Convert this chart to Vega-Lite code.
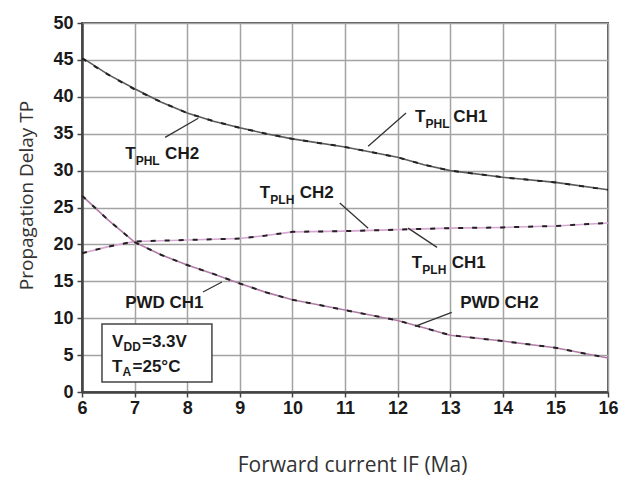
{
  "$schema": "https://vega.github.io/schema/vega-lite/v6.json",
  "width": 526,
  "height": 369,
  "autosize": {"type": "none"},
  "padding": {"left": 82, "top": 23, "right": 16, "bottom": 85},
  "background": "white",
  "config": {
    "view": {"stroke": "#555555", "strokeWidth": 2},
    "axis": {
      "gridColor": "#a3a3a3",
      "gridWidth": 1.5,
      "domainColor": "#444444",
      "domainWidth": 2.5,
      "tickColor": "#444444",
      "tickSize": 5,
      "tickWidth": 1.5,
      "labelFont": "Liberation Sans",
      "labelFontWeight": "bold",
      "labelFontSize": 18,
      "labelColor": "#1a1a1a",
      "labelOverlap": false,
      "titleFont": "Open Sans",
      "titleFontWeight": "normal",
      "titleColor": "#333333"
    }
  },
  "datasets": {
    "curves": [
      {"IF": 6, "TP": 45.3, "series": "TPHL", "ch": "CH1"},
      {"IF": 6.5, "TP": 43.0, "series": "TPHL", "ch": "CH1"},
      {"IF": 7, "TP": 41.1, "series": "TPHL", "ch": "CH1"},
      {"IF": 7.5, "TP": 39.3, "series": "TPHL", "ch": "CH1"},
      {"IF": 8, "TP": 37.8, "series": "TPHL", "ch": "CH1"},
      {"IF": 8.5, "TP": 36.7, "series": "TPHL", "ch": "CH1"},
      {"IF": 9, "TP": 35.8, "series": "TPHL", "ch": "CH1"},
      {"IF": 9.5, "TP": 35.0, "series": "TPHL", "ch": "CH1"},
      {"IF": 10, "TP": 34.3, "series": "TPHL", "ch": "CH1"},
      {"IF": 11, "TP": 33.2, "series": "TPHL", "ch": "CH1"},
      {"IF": 12, "TP": 31.8, "series": "TPHL", "ch": "CH1"},
      {"IF": 12.5, "TP": 30.8, "series": "TPHL", "ch": "CH1"},
      {"IF": 13, "TP": 30.0, "series": "TPHL", "ch": "CH1"},
      {"IF": 14, "TP": 29.1, "series": "TPHL", "ch": "CH1"},
      {"IF": 15, "TP": 28.4, "series": "TPHL", "ch": "CH1"},
      {"IF": 16, "TP": 27.4, "series": "TPHL", "ch": "CH1"},
      {"IF": 6, "TP": 45.2, "series": "TPHL", "ch": "CH2"},
      {"IF": 6.5, "TP": 43.0, "series": "TPHL", "ch": "CH2"},
      {"IF": 7, "TP": 41.0, "series": "TPHL", "ch": "CH2"},
      {"IF": 7.5, "TP": 39.3, "series": "TPHL", "ch": "CH2"},
      {"IF": 8, "TP": 37.8, "series": "TPHL", "ch": "CH2"},
      {"IF": 8.5, "TP": 36.7, "series": "TPHL", "ch": "CH2"},
      {"IF": 9, "TP": 35.8, "series": "TPHL", "ch": "CH2"},
      {"IF": 9.5, "TP": 35.0, "series": "TPHL", "ch": "CH2"},
      {"IF": 10, "TP": 34.3, "series": "TPHL", "ch": "CH2"},
      {"IF": 11, "TP": 33.2, "series": "TPHL", "ch": "CH2"},
      {"IF": 12, "TP": 31.8, "series": "TPHL", "ch": "CH2"},
      {"IF": 12.5, "TP": 30.8, "series": "TPHL", "ch": "CH2"},
      {"IF": 13, "TP": 30.0, "series": "TPHL", "ch": "CH2"},
      {"IF": 14, "TP": 29.1, "series": "TPHL", "ch": "CH2"},
      {"IF": 15, "TP": 28.4, "series": "TPHL", "ch": "CH2"},
      {"IF": 16, "TP": 27.4, "series": "TPHL", "ch": "CH2"},
      {"IF": 6, "TP": 18.8, "series": "TPLH", "ch": "CH1"},
      {"IF": 6.5, "TP": 19.7, "series": "TPLH", "ch": "CH1"},
      {"IF": 7, "TP": 20.4, "series": "TPLH", "ch": "CH1"},
      {"IF": 8, "TP": 20.6, "series": "TPLH", "ch": "CH1"},
      {"IF": 9, "TP": 20.8, "series": "TPLH", "ch": "CH1"},
      {"IF": 9.5, "TP": 21.2, "series": "TPLH", "ch": "CH1"},
      {"IF": 10, "TP": 21.7, "series": "TPLH", "ch": "CH1"},
      {"IF": 11, "TP": 21.8, "series": "TPLH", "ch": "CH1"},
      {"IF": 12, "TP": 22.0, "series": "TPLH", "ch": "CH1"},
      {"IF": 13, "TP": 22.2, "series": "TPLH", "ch": "CH1"},
      {"IF": 14, "TP": 22.3, "series": "TPLH", "ch": "CH1"},
      {"IF": 15, "TP": 22.5, "series": "TPLH", "ch": "CH1"},
      {"IF": 16, "TP": 22.9, "series": "TPLH", "ch": "CH1"},
      {"IF": 6, "TP": 18.8, "series": "TPLH", "ch": "CH2"},
      {"IF": 6.5, "TP": 19.7, "series": "TPLH", "ch": "CH2"},
      {"IF": 7, "TP": 20.4, "series": "TPLH", "ch": "CH2"},
      {"IF": 8, "TP": 20.6, "series": "TPLH", "ch": "CH2"},
      {"IF": 9, "TP": 20.8, "series": "TPLH", "ch": "CH2"},
      {"IF": 9.5, "TP": 21.2, "series": "TPLH", "ch": "CH2"},
      {"IF": 10, "TP": 21.7, "series": "TPLH", "ch": "CH2"},
      {"IF": 11, "TP": 21.8, "series": "TPLH", "ch": "CH2"},
      {"IF": 12, "TP": 22.0, "series": "TPLH", "ch": "CH2"},
      {"IF": 13, "TP": 22.2, "series": "TPLH", "ch": "CH2"},
      {"IF": 14, "TP": 22.3, "series": "TPLH", "ch": "CH2"},
      {"IF": 15, "TP": 22.5, "series": "TPLH", "ch": "CH2"},
      {"IF": 16, "TP": 22.9, "series": "TPLH", "ch": "CH2"},
      {"IF": 6, "TP": 26.6, "series": "PWD", "ch": "CH1"},
      {"IF": 6.5, "TP": 23.3, "series": "PWD", "ch": "CH1"},
      {"IF": 7, "TP": 20.3, "series": "PWD", "ch": "CH1"},
      {"IF": 7.5, "TP": 18.6, "series": "PWD", "ch": "CH1"},
      {"IF": 8, "TP": 17.2, "series": "PWD", "ch": "CH1"},
      {"IF": 8.5, "TP": 16.0, "series": "PWD", "ch": "CH1"},
      {"IF": 9, "TP": 14.7, "series": "PWD", "ch": "CH1"},
      {"IF": 9.5, "TP": 13.5, "series": "PWD", "ch": "CH1"},
      {"IF": 10, "TP": 12.5, "series": "PWD", "ch": "CH1"},
      {"IF": 11, "TP": 11.1, "series": "PWD", "ch": "CH1"},
      {"IF": 12, "TP": 9.7, "series": "PWD", "ch": "CH1"},
      {"IF": 12.5, "TP": 8.7, "series": "PWD", "ch": "CH1"},
      {"IF": 13, "TP": 7.7, "series": "PWD", "ch": "CH1"},
      {"IF": 14, "TP": 6.9, "series": "PWD", "ch": "CH1"},
      {"IF": 15, "TP": 6.0, "series": "PWD", "ch": "CH1"},
      {"IF": 16, "TP": 4.6, "series": "PWD", "ch": "CH1"},
      {"IF": 6, "TP": 26.6, "series": "PWD", "ch": "CH2"},
      {"IF": 6.5, "TP": 23.3, "series": "PWD", "ch": "CH2"},
      {"IF": 7, "TP": 20.3, "series": "PWD", "ch": "CH2"},
      {"IF": 7.5, "TP": 18.6, "series": "PWD", "ch": "CH2"},
      {"IF": 8, "TP": 17.2, "series": "PWD", "ch": "CH2"},
      {"IF": 8.5, "TP": 16.0, "series": "PWD", "ch": "CH2"},
      {"IF": 9, "TP": 14.7, "series": "PWD", "ch": "CH2"},
      {"IF": 9.5, "TP": 13.5, "series": "PWD", "ch": "CH2"},
      {"IF": 10, "TP": 12.5, "series": "PWD", "ch": "CH2"},
      {"IF": 11, "TP": 11.1, "series": "PWD", "ch": "CH2"},
      {"IF": 12, "TP": 9.7, "series": "PWD", "ch": "CH2"},
      {"IF": 12.5, "TP": 8.7, "series": "PWD", "ch": "CH2"},
      {"IF": 13, "TP": 7.7, "series": "PWD", "ch": "CH2"},
      {"IF": 14, "TP": 6.9, "series": "PWD", "ch": "CH2"},
      {"IF": 15, "TP": 6.0, "series": "PWD", "ch": "CH2"},
      {"IF": 16, "TP": 4.6, "series": "PWD", "ch": "CH2"}
    ],
    "leaders": [
      {"IF": 7.58, "TP": 34.5, "IF2": 8.21, "TP2": 37.1},
      {"IF": 12.16, "TP": 37.8, "IF2": 11.44, "TP2": 33.3},
      {"IF": 10.9, "TP": 25.6, "IF2": 11.44, "TP2": 22.2},
      {"IF": 12.2, "TP": 22.2, "IF2": 12.75, "TP2": 19.6},
      {"IF": 8.3, "TP": 13.55, "IF2": 8.66, "TP2": 14.9},
      {"IF": 13.03, "TP": 10.8, "IF2": 12.33, "TP2": 8.9}
    ],
    "box": [
      {"IF": 6.38, "IF2": 8.47, "TP": 9.2, "TP2": 1.35}
    ],
    "mainText": [
      {"IF": 6.82, "TP": 31.6, "t": "T"},
      {"IF": 7.58, "TP": 31.6, "t": "CH2"},
      {"IF": 12.33, "TP": 36.6, "t": "T"},
      {"IF": 13.06, "TP": 36.6, "t": "CH1"},
      {"IF": 9.38, "TP": 26.3, "t": "T"},
      {"IF": 10.14, "TP": 26.3, "t": "CH2"},
      {"IF": 12.27, "TP": 16.8, "t": "T"},
      {"IF": 13.03, "TP": 16.8, "t": "CH1"},
      {"IF": 6.82, "TP": 11.4, "t": "PWD CH1"},
      {"IF": 13.19, "TP": 11.4, "t": "PWD CH2"},
      {"IF": 6.57, "TP": 6.1, "t": "V"},
      {"IF": 7.14, "TP": 6.1, "t": "=3.3V"},
      {"IF": 6.57, "TP": 2.7, "t": "T"},
      {"IF": 6.96, "TP": 2.7, "t": "=25°C"}
    ],
    "subText": [
      {"IF": 7.02, "TP": 30.8, "t": "PHL"},
      {"IF": 12.53, "TP": 35.8, "t": "PHL"},
      {"IF": 9.58, "TP": 25.5, "t": "PLH"},
      {"IF": 12.47, "TP": 16.0, "t": "PLH"},
      {"IF": 6.79, "TP": 5.6, "t": "DD"},
      {"IF": 6.77, "TP": 2.2, "t": "A"}
    ]
  },
  "encoding": {
    "x": {
      "field": "IF", "type": "quantitative",
      "scale": {"domain": [6, 16], "nice": false, "zero": false},
      "axis": {"values": [6, 7, 8, 9, 10, 11, 12, 13, 14, 15, 16], "title": "Forward current IF (Ma)", "titleFontSize": 21, "titleX": 270, "labelPadding": 2, "titlePadding": 37, "labelFlush": false}
    },
    "y": {
      "field": "TP", "type": "quantitative",
      "scale": {"domain": [0, 50], "nice": false},
      "axis": {"values": [0, 5, 10, 15, 20, 25, 30, 35, 40, 45, 50], "title": "Propagation Delay TP", "titleFontSize": 19, "titleY": 172, "labelPadding": 4, "titlePadding": 16}
    }
  },
  "layer": [
    {
      "data": {"name": "curves"},
      "transform": [{"filter": "datum.ch === 'CH1'"}],
      "mark": {"type": "line", "strokeWidth": 1.6},
      "encoding": {
        "detail": {"field": "series"},
        "color": {
          "field": "series", "type": "nominal",
          "scale": {"domain": ["TPHL", "TPLH", "PWD"], "range": ["#5a5a5a", "#d8a6d2", "#b27aa6"]},
          "legend": null
        }
      }
    },
    {
      "data": {"name": "curves"},
      "transform": [{"filter": "datum.ch === 'CH2'"}],
      "mark": {"type": "line", "color": "#222222", "strokeWidth": 2, "strokeDash": [5, 9]},
      "encoding": {
        "detail": {"field": "series"}
      }
    },
    {
      "data": {"name": "leaders"},
      "mark": {"type": "rule", "color": "#333333", "strokeWidth": 1.3},
      "encoding": {
        "x2": {"field": "IF2"},
        "y2": {"field": "TP2"}
      }
    },
    {
      "data": {"name": "box"},
      "mark": {"type": "rect", "fill": "white", "stroke": "#444444", "strokeWidth": 1.5},
      "encoding": {
        "x2": {"field": "IF2"},
        "y2": {"field": "TP2"}
      }
    },
    {
      "data": {"name": "mainText"},
      "mark": {"type": "text", "align": "left", "baseline": "alphabetic", "font": "Liberation Sans", "fontWeight": "bold", "fontSize": 17, "color": "#1a1a1a"},
      "encoding": {
        "text": {"field": "t"}
      }
    },
    {
      "data": {"name": "subText"},
      "mark": {"type": "text", "align": "left", "baseline": "alphabetic", "font": "Liberation Sans", "fontWeight": "bold", "fontSize": 12, "color": "#1a1a1a"},
      "encoding": {
        "text": {"field": "t"}
      }
    }
  ]
}
